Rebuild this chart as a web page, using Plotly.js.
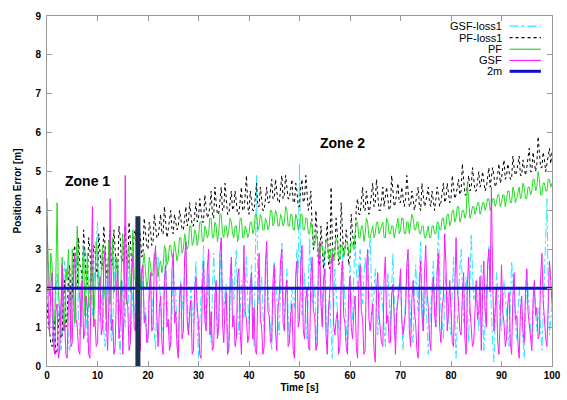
<!DOCTYPE html>
<html>
<head>
<meta charset="utf-8">
<script src="https://cdn.plot.ly/plotly-3.0.1.min.js"></script>
<style>html,body{margin:0;padding:0;background:#fff;}#chart{width:567px;height:400px;}</style>
</head>
<body>
<div id="chart"></div>
<script>
// Sampling of the series (seconds)
const tStart = 0;
const tStep = 0.25;

// GSF-loss1 (cyan, dash-dot)
const gsfLoss1 = [
2.1,1.3,0.9,1.9, 1.6,0.6,0.5,1.8, 2.4,1.5,1.2,0.4, 0.7,2.1,2.7,1.6, 1.5,0.5,0.4,1.7, 2.2,1.4,1.0,2.5, 2.9,1.2,0.8,1.3, 1.8,2.6,3.0,1.5, 0.6,1.4,2.3,1.9, 1.3,2.0,2.6,3.1,
3.7,1.8,1.1,1.6, 2.0,0.9,0.5,1.8, 2.5,1.7,1.4,0.6, 0.8,2.1,2.8,1.9, 1.6,0.7,0.3,1.4, 2.2,1.5,1.0,2.4, 2.7,1.3,0.6,1.2, 1.9,1.5,1.2,2.6, 3.1,1.6,0.7,1.9, 2.3,1.2,1.5,0.9,
0.6,1.7,2.4,1.8, 1.3,0.7,0.4,1.9, 2.8,2.1,1.7,1.0, 0.9,2.2,3.0,1.6, 1.2,0.8,0.5,1.4, 2.6,2.0,1.9,0.8, 0.3,1.5,2.2,1.7, 1.4,2.5,3.2,1.9, 0.8,1.2,2.0,1.5, 1.1,2.1,2.7,1.0,
0.2,1.1,1.8,2.4, 3.1,1.7,1.0,1.6, 2.4,1.1,0.6,1.9, 2.9,2.1,1.5,0.8, 0.9,2.4,3.3,2.0, 1.3,1.9,2.1,0.9, 0.4,1.6,2.6,2.2, 1.7,2.5,3.0,1.5, 0.8,1.3,2.2,1.6, 1.2,2.0,2.8,1.7,
1.1,2.0,2.6,1.2, 0.5,2.7,4.9,2.1, 1.6,1.9,2.3,1.4, 0.9,2.2,3.1,2.0, 1.4,0.8,0.4,1.6, 2.7,2.2,1.8,1.1, 0.8,2.0,3.2,1.9, 1.2,1.8,2.5,1.3, 0.6,1.4,2.0,1.7, 1.5,2.3,3.0,2.4,
5.2,2.2,1.3,1.9, 2.4,1.2,0.7,2.0, 3.3,2.3,1.6,1.8, 2.1,1.0,0.5,1.7, 2.8,1.9,1.1,2.2, 3.0,1.5,0.6,1.2, 1.8,0.9,0.2,1.4, 2.5,1.9,1.4,1.0, 0.9,1.8,2.9,2.3, 1.7,0.9,0.4,1.5,
2.6,1.8,1.2,2.3, 3.2,2.5,2.0,2.6, 3.0,2.2,1.6,2.3, 2.8,2.4,2.2,2.9, 3.3,2.1,1.3,1.9, 2.5,1.6,0.8,1.5, 2.1,1.8,1.5,1.0, 0.5,1.6,2.4,1.7, 1.0,2.0,2.9,1.8, 0.7,1.3,1.9,2.1,
2.3,1.2,0.4,1.1, 1.7,2.4,2.9,2.0, 1.1,0.8,0.6,1.7, 2.6,2.0,1.4,2.4, 3.2,1.9,0.9,1.5, 2.0,1.1,0.3,0.9, 1.6,2.2,2.7,1.8, 1.0,2.4,3.6,2.5, 1.5,1.1,0.7,1.6, 2.4,1.8,1.2,1.0,
0.8,1.9,2.8,1.4, 0.2,1.1,1.9,2.5, 3.0,2.0,1.1,1.8, 2.3,1.4,0.6,2.0, 3.4,2.5,1.7,1.9, 2.1,1.5,0.9,1.8, 2.6,1.5,0.4,1.1, 1.8,2.5,3.1,2.2, 1.3,0.6,0.1,1.3, 2.4,2.0,1.6,1.2,
0.9,1.6,2.2,1.8, 1.4,0.9,0.5,1.6, 2.7,2.2,1.8,1.2, 0.7,1.4,2.0,1.6, 1.1,0.6,0.2,1.3, 2.5,1.9,1.3,1.0, 0.6,1.2,1.9,1.4, 0.9,1.2,1.5,0.9, 0.4,1.3,2.2,3.5, 4.3,1.9,0.8,1.2, 1.6
];

// PF-loss1 (black, dotted)
const pfLoss1 = [
1.6,1.1,0.9,0.6, 0.5,0.9,1.2,0.3, 0.4,1.0,1.5,0.7, 0.8,1.8,2.2,1.0, 1.3,2.3,2.6,1.6, 1.8,2.9,3.1,2.0, 2.0,3.3,2.6,2.5, 2.2,3.5,2.9,2.3, 2.1,3.3,3.0,2.2, 2.4,3.1,3.0,2.5,
2.3,3.4,2.9,2.5, 2.5,3.6,3.1,2.4, 2.2,3.2,3.5,2.6, 2.6,3.5,3.0,2.5, 2.4,3.6,3.3,2.7, 2.7,3.3,3.6,2.8, 2.5,3.7,3.2,2.7, 2.8,3.4,3.5,2.9, 2.6,3.6,3.3,2.8, 2.9,3.8,3.4,3.1,
3.0,3.7,3.5,3.1, 3.2,3.9,3.6,3.3, 3.3,3.6,3.9,3.4, 3.4,4.1,3.7,3.3, 3.5,3.8,4.0,3.5, 3.4,3.9,3.7,3.5, 3.6,4.0,3.8,3.5, 3.5,3.8,4.1,3.6, 3.7,4.2,3.9,3.6, 3.6,3.9,4.2,3.7,
3.8,4.3,4.0,3.7, 3.7,4.4,4.1,3.8, 3.9,4.1,4.5,3.9, 3.8,4.6,4.2,3.9, 3.9,4.2,4.6,4.0, 4.0,4.7,4.3,3.9, 3.9,4.3,4.5,4.0, 4.1,4.5,4.2,3.9, 3.9,4.2,4.6,4.0, 4.0,4.4,4.9,4.1,
3.9,4.5,4.3,4.0, 4.0,4.4,4.7,4.1, 4.1,4.6,4.3,4.0, 4.0,4.3,4.6,4.2, 4.2,4.5,4.8,4.3, 4.3,4.8,4.5,4.2, 4.2,4.6,4.9,4.3, 4.4,4.9,4.6,4.3, 4.3,4.5,4.8,4.2, 4.2,4.7,4.5,4.1,
4.1,4.6,4.8,4.2, 4.3,4.9,4.5,4.0, 4.2,4.5,3.6,3.0, 3.2,4.0,3.4,2.6, 2.6,3.6,3.1,2.5, 2.8,3.3,3.7,2.6, 2.5,4.6,3.2,2.7, 2.9,3.8,3.4,2.6, 2.7,4.2,3.3,2.8, 3.0,3.5,3.2,2.6,
2.8,3.9,3.4,3.1, 3.1,4.1,4.3,3.9, 3.9,4.3,4.6,4.0, 4.0,4.5,4.2,3.9, 4.1,4.4,4.7,4.1, 4.2,4.8,4.4,4.0, 4.0,4.4,4.6,4.1, 4.3,4.6,4.3,4.0, 4.1,4.9,4.5,4.1, 4.2,4.5,4.7,4.2,
4.2,4.6,4.4,4.1, 4.3,4.9,4.5,4.1, 4.1,4.5,4.3,4.0, 4.2,4.4,4.6,4.1, 4.0,4.7,4.4,4.1, 4.2,4.4,4.6,4.2, 4.1,4.5,4.3,4.0, 4.3,4.6,4.4,4.1, 4.2,4.4,4.7,4.2, 4.3,4.7,4.5,4.2,
4.3,4.9,4.6,4.3, 4.4,4.6,4.8,4.4, 4.5,5.2,4.7,4.4, 4.4,4.7,4.9,4.5, 4.6,5.1,4.8,4.5, 4.5,4.8,5.0,4.6, 4.7,5.0,4.8,4.5, 4.6,4.9,5.1,4.6, 4.8,5.1,4.9,4.6, 4.7,5.0,5.2,4.7,
4.8,5.1,5.3,4.8, 4.9,5.2,5.0,4.8, 4.8,5.4,5.1,4.9, 5.0,5.2,5.4,4.9, 4.9,5.3,5.1,4.9, 5.1,5.4,5.6,5.0, 5.0,5.5,5.3,5.0, 5.2,5.9,5.5,5.1, 5.1,5.5,5.3,5.0, 5.2,5.4,5.6,5.2, 5.5
];

// PF (green)
const pf = [
3.6,2.4,1.8,2.9, 2.6,1.0,1.2,2.3, 4.2,2.0,1.5,0.8, 2.8,1.6,0.9,2.5, 2.2,3.0,1.4,0.7, 3.0,1.8,1.1,2.6, 3.6,2.1,1.7,1.0, 2.5,3.1,1.3,2.0, 2.9,1.5,1.6,2.7, 2.4,1.2,1.9,3.2,
2.8,1.5,1.5,2.4, 3.1,2.0,1.8,1.2, 2.6,3.2,1.6,2.1, 3.3,1.9,2.0,2.8, 2.7,1.4,1.7,2.9, 3.4,2.2,2.1,1.6, 2.9,3.1,1.9,2.4, 3.5,2.3,2.2,1.8, 3.0,2.6,2.0,2.5, 2.6,2.9,2.3,2.0,
2.2,2.8,2.6,2.3, 2.4,2.9,2.9,2.5, 2.3,2.6,2.7,2.4, 2.6,3.1,3.0,2.6, 2.7,3.1,3.1,2.8, 2.8,3.2,3.0,2.7, 2.9,3.3,3.3,2.9, 3.0,3.4,3.2,3.0, 3.1,3.6,3.6,3.1, 3.2,3.5,3.4,3.1,
3.3,3.7,3.7,3.2, 3.2,3.6,3.5,3.3, 3.4,3.8,3.8,3.3, 3.3,3.7,3.6,3.2, 3.4,3.9,3.9,3.4, 3.3,3.6,3.6,3.3, 3.5,3.8,3.7,3.4, 3.3,3.6,3.6,3.2, 3.4,3.8,3.8,3.3, 3.3,3.6,3.5,3.3,
3.4,3.7,3.7,3.4, 3.5,3.9,3.9,3.5, 3.6,3.9,3.8,3.5, 3.5,3.8,3.7,3.5, 3.6,4.0,4.0,3.6, 3.7,4.0,3.9,3.6, 3.6,3.9,3.8,3.6, 3.7,4.1,4.0,3.6, 3.6,3.9,3.9,3.5, 3.5,3.9,3.8,3.5,
3.6,3.9,3.9,3.5, 3.5,3.8,3.8,3.4, 3.4,3.7,3.6,3.2, 3.1,3.4,3.3,2.9, 2.8,3.1,3.1,2.8, 2.9,3.2,3.2,2.8, 2.7,3.0,3.0,2.7, 2.9,3.3,3.2,2.8, 2.8,3.1,3.1,2.8, 3.0,3.2,3.2,2.9,
2.9,3.2,3.1,3.0, 3.4,3.7,3.7,3.3, 3.3,3.6,3.6,3.2, 3.4,3.8,3.7,3.3, 3.3,3.5,3.6,3.3, 3.4,3.7,3.7,3.4, 3.5,3.6,3.7,3.3, 3.3,3.8,3.7,3.4, 3.4,3.6,3.6,3.3, 3.5,3.7,3.8,3.4,
3.5,3.8,3.8,3.4, 3.4,3.7,3.7,3.4, 3.6,3.9,3.8,3.5, 3.5,3.7,3.7,3.4, 3.4,3.6,3.6,3.3, 3.3,3.5,3.6,3.3, 3.3,3.6,3.6,3.4, 3.4,3.7,3.7,3.5, 3.5,3.8,3.8,3.5, 3.6,3.9,3.9,3.6,
3.7,4.0,4.0,3.7, 3.8,4.1,4.1,3.7, 3.8,4.0,4.0,3.8, 3.9,4.7,4.3,3.8, 3.9,4.1,4.1,3.9, 4.0,4.2,4.2,3.9, 4.0,4.2,4.2,4.0, 4.1,4.3,4.3,4.0, 4.1,4.3,4.3,4.1, 4.2,4.4,4.4,4.1,
4.2,4.4,4.4,4.1, 4.3,4.5,4.5,4.2, 4.2,4.6,4.5,4.2, 4.3,4.5,4.6,4.3, 4.4,4.7,4.6,4.3, 4.3,4.6,4.6,4.4, 4.5,4.8,4.8,4.5, 4.6,5.0,4.8,4.4, 4.4,4.7,4.7,4.5, 4.5,4.8,4.8,4.6, 4.7
];

// GSF (magenta)
const gsf = [
4.3,1.5,0.8,2.0, 2.4,0.6,0.3,1.4, 1.6,0.2,0.4,1.9, 2.6,0.9,1.1,0.3, 0.2,1.7,1.9,0.5, 0.6,2.3,2.9,1.2, 1.0,0.4,0.3,2.1, 2.2,0.7,0.9,1.8, 1.5,0.3,0.2,2.4, 4.1,1.0,1.2,0.5,
0.6,1.9,2.3,0.8, 1.0,2.6,3.0,1.2, 0.4,1.6,4.3,0.9, 1.2,0.3,0.5,2.0, 2.5,0.7,1.1,2.2, 0.3,1.4,4.9,1.8, 1.5,0.4,0.6,2.4, 2.8,1.0,0.9,1.7, 2.0,0.5,0.4,2.3, 2.6,1.1,1.3,0.6,
0.7,2.0,2.4,0.9, 1.0,2.7,3.1,1.3, 0.5,1.5,1.8,0.6, 0.3,2.2,2.6,1.0, 1.2,0.4,0.6,2.5, 2.9,1.1,1.4,0.5, 0.2,1.8,2.1,0.7, 0.9,2.8,3.2,1.2, 0.8,1.4,1.7,0.3, 0.4,2.0,2.3,1.5,
1.1,0.3,0.2,1.9, 2.7,1.2,0.9,2.5, 3.0,0.8,1.4,0.4, 0.5,1.8,2.2,0.7, 1.0,2.9,3.3,1.1, 0.6,1.5,1.9,0.3, 0.4,2.2,2.8,1.0, 1.3,0.5,0.7,2.3, 2.5,0.9,0.3,1.6, 3.1,1.4,1.2,0.6,
0.8,2.1,2.4,0.7, 1.5,0.4,0.3,1.9, 2.9,1.2,1.0,0.3, 0.5,2.6,3.2,1.4, 1.3,0.6,0.7,2.2, 2.6,0.9,0.4,1.5, 1.8,2.7,3.0,1.1, 0.9,1.9,2.2,0.5, 0.6,1.3,1.6,0.4, 0.2,2.3,2.7,1.0,
1.2,2.6,3.1,0.9, 0.7,1.7,2.0,0.5, 0.4,2.3,2.8,1.4, 1.3,0.4,0.6,2.7, 3.2,1.6,1.0,2.2, 2.5,0.8,0.3,1.5, 1.9,2.6,2.9,1.1, 0.8,1.2,1.4,0.3, 0.5,2.2,2.7,1.3, 1.1,0.5,0.3,1.9,
2.3,1.0,0.7,1.4, 1.8,0.5,0.2,2.1, 2.6,1.4,1.2,0.3, 0.4,2.5,3.0,1.2, 0.9,1.3,1.6,0.4, 0.1,1.9,2.4,1.3, 1.0,0.6,0.5,2.2, 2.8,1.1,1.3,0.6, 0.6,1.8,2.1,0.9, 0.3,1.4,1.7,2.0,
2.5,1.2,0.8,1.1, 1.4,2.6,3.0,0.9, 0.5,1.7,2.2,1.4, 1.1,0.4,0.2,2.1, 2.7,1.3,0.9,2.4, 3.1,1.9,1.5,0.7, 0.4,1.8,2.3,1.3, 1.0,2.4,2.9,1.0, 0.6,1.5,1.8,3.4, 2.6,0.9,1.4,2.2,
1.2,0.6,0.5,2.4, 3.3,2.0,1.6,0.9, 0.8,1.8,2.4,0.7, 0.3,2.1,2.8,1.5, 1.1,0.5,0.6,1.7, 2.2,1.2,1.4,2.3, 0.4,1.9,2.7,1.4, 1.0,2.6,3.0,1.9, 4.6,2.2,0.9,1.5, 2.0,0.6,0.3,1.3,
2.6,1.4,1.1,0.5, 0.7,1.6,1.9,0.6, 0.3,1.8,2.4,1.2, 1.3,0.6,0.2,1.4, 1.8,0.9,0.6,1.9, 2.5,1.4,1.0,0.6, 0.4,1.7,2.2,1.3, 1.5,0.7,0.8,2.3, 2.9,1.7,1.2,0.7, 0.5,1.8,2.7,2.2, 1.6
];

// Reference marks
const refX = [0, 100];
const refY = [2, 2];
const zoneSplitX = [18, 18];
const zoneSplitY = [0, 3.85];

// Labels
const seriesNames = ['GSF-loss1', 'PF-loss1', 'PF', 'GSF', '2m'];
const seriesColors = ['#2ee6ff', '#000000', '#22dd22', '#ff1aff', '#1010cc'];
const seriesDash = ['dashdot', 'dot', 'solid', 'solid', 'solid'];
const seriesWidth = [1, 1, 1, 1, 3];
const zoneLabels = ['Zone 1', 'Zone 2'];
const zoneLabelX = [8.1, 58.6];
const zoneLabelY = [4.76, 5.73];
const xTicks = [0,10,20,30,40,50,60,70,80,90,100];
const yTicks = [0,1,2,3,4,5,6,7,8,9];

const seriesData = [gsfLoss1, pfLoss1, pf, gsf];
const traces = seriesData.map((d, i) => ({
  type: 'scatter', mode: 'lines', y: d, x0: tStart, dx: tStep,
  name: seriesNames[i], showlegend: false,
  line: {color: seriesColors[i], width: seriesWidth[i], dash: seriesDash[i]}
}));
traces.push({type:'scatter', mode:'lines', x: refX, y: refY, name: seriesNames[4], showlegend:false,
  line:{color: seriesColors[4], width: 3}});
traces.push({type:'scatter', mode:'lines', x: zoneSplitX, y: zoneSplitY, showlegend:false,
  line:{color:'#1c3350', width:5}});

// custom legend (text right, sample line on its right, as in the original)
const legRows = [0.971, 0.938, 0.905, 0.873, 0.842];
const annotations = [];
const shapes = [];
seriesNames.forEach((n, i) => {
  annotations.push({xref:'paper', yref:'paper', x:0.904, y:legRows[i], xanchor:'right', yanchor:'middle',
    text:n, showarrow:false, font:{family:'Liberation Sans, Arial', size:11, color:'#000'}});
  shapes.push({type:'line', xref:'paper', yref:'paper', x0:0.916, x1:0.978, y0:legRows[i], y1:legRows[i],
    line:{color: seriesColors[i], width: seriesWidth[i] === 3 ? 3 : 1.2, dash: seriesDash[i]}});
});
zoneLabels.forEach((z, i) => {
  annotations.push({x: zoneLabelX[i], y: zoneLabelY[i], text: z, showarrow:false,
    font:{family:'Liberation Sans, Arial', size:14, weight:'bold', color:'#000'}});
});

const bad = seriesData.map((d, i) => d.length !== 401 ? seriesNames[i] + ':' + d.length : '').filter(s => s);

const axisCommon = {
  showgrid:false, zeroline:false, showline:true, linecolor:'#999', linewidth:1,
  mirror:'ticks', ticks:'inside', ticklen:5, tickcolor:'#999',
  tickfont:{family:'Liberation Sans, Arial', size:10, weight:'bold', color:'#000'}
};

const layout = {
  width:567, height:400,
  margin:{l:47, r:15, t:16, b:34},
  paper_bgcolor:'#fff', plot_bgcolor:'#fff',
  showlegend:false,
  title: bad.length ? {text: bad.join(' '), font:{size:10, color:'red'}, y:0.99} : undefined,
  xaxis: Object.assign({}, axisCommon, {range:[0,100], tickvals:xTicks, ticktext:xTicks.map(String),
    title:{text:'Time [s]', standoff:3, font:{family:'Liberation Sans, Arial', size:10, weight:'bold', color:'#000'}}}),
  yaxis: Object.assign({}, axisCommon, {range:[0,9], tickvals:yTicks, ticktext:yTicks.map(String),
    ticklabelstandoff:3,
    title:{text:'Position Error [m]', standoff:11, font:{family:'Liberation Sans, Arial', size:10, weight:'bold', color:'#000'}}}),
  annotations: annotations,
  shapes: shapes
};

Plotly.newPlot('chart', traces, layout, {displayModeBar:false, staticPlot:true});
</script>
</body>
</html>
